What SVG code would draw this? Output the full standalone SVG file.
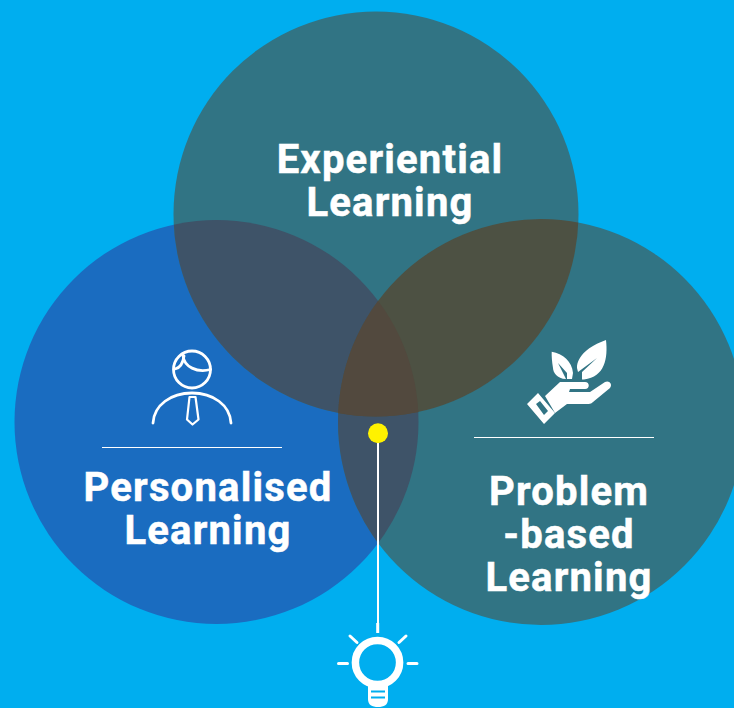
<svg xmlns="http://www.w3.org/2000/svg" width="734" height="708" viewBox="0 0 734 708">
<style>
.t{font-family:"Roboto","Liberation Sans",sans-serif;font-weight:700;font-size:40px;fill:#fff;stroke:#fff;stroke-width:.5px;text-anchor:middle;letter-spacing:1.2px}
.w{fill:none;stroke:#fff;stroke-width:2.800;stroke-linecap:round}
.r{fill:none;stroke:#fff;stroke-linecap:round}
</style>
<defs>
<clipPath id="cT"><circle cx="376" cy="214" r="202.500"/></clipPath>
<clipPath id="cL"><circle cx="216.500" cy="422" r="202"/></clipPath>
<clipPath id="cR"><circle cx="541" cy="422" r="203"/></clipPath>
</defs>
<rect width="734" height="708" fill="#00aeef"/>
<g id="node-personalised">
<circle cx="216.500" cy="422" r="202" fill="#1a6cc0"/>
</g>
<g id="node-problem">
<circle cx="541" cy="422" r="203" fill="#317484"/>
</g>
<g id="node-experiential">
<circle cx="376" cy="214" r="202.500" fill="#317484"/>
</g>
<g id="overlaps">
<g clip-path="url(#cL)"><circle cx="376" cy="214" r="202.500" fill="#3e5368"/><circle cx="541" cy="422" r="203" fill="#3e5368"/></g>
<g clip-path="url(#cR)"><circle cx="376" cy="214" r="202.500" fill="#4d5143"/></g>
<g clip-path="url(#cL)"><g clip-path="url(#cR)"><circle cx="376" cy="214" r="202.500" fill="#52493e"/></g></g>
</g>
<g id="label-experiential">
<text class="t" x="390" y="173">Experiential</text>
<text class="t" x="390" y="216">Learning</text>
</g>
<g id="label-personalised">
<text class="t" x="208" y="501">Personalised</text>
<text class="t" x="208" y="544">Learning</text>
<line x1="102" y1="447.500" x2="282" y2="447.500" stroke="#fff" stroke-width="1"/>
</g>
<g id="label-problem">
<text class="t" x="569" y="505">Problem</text>
<text class="t" x="569" y="548">-based</text>
<text class="t" x="569" y="591">Learning</text>
<line x1="474" y1="437.500" x2="654" y2="437.500" stroke="#fff" stroke-width="1"/>
</g>
<g id="icon-person">
<circle class="w" cx="192" cy="369.500" r="18.500"/>
<path class="w" d="M183 355.500C184 367 197 373 210.500 369.500"/>
<path class="w" d="M175 369C180 368 183 363 184 356"/>
<path class="w" d="M153 423C154 405 171 393 192 393C213 393 230 405 231 423" stroke-linecap="butt"/>
<path d="M189.500 397H195.500L198.500 419.500L192.500 424.500L187 419.500Z" fill="none" stroke="#fff" stroke-width="2.200" stroke-linejoin="round"/>
</g>
<g id="icon-plant">
<path fill="#fff" d="M551.700 351.700C563 354 572 361 573 373L572 379L567 379L567 373L558 363L566 379C557 379 553 372 553 368C552 362 551.500 356 551.700 351.700Z"/>
<path fill="#fff" d="M606 340C608 358 605 377 584 379.500L582 379.500L582 372L597 358L578 372L577 368C577 356 589 346 606 340Z"/>
<path fill="#fff" d="M545 396L560 382H585C590 382 590 389 585 389L570 389L569 392H590L605 382C609 380 613 384 610 388L593 402C591 404 589 404 587 404H567L555 413Z"/>
<path fill="#fff" fill-rule="evenodd" d="M527 404L538 393L555 413L544 424ZM536 404L544 415L548 411L540 401Z"/>
</g>
<g id="connectors">
<line x1="378" y1="433" x2="378" y2="623" stroke="#fff" stroke-width="2"/>
<line x1="377.700" y1="623" x2="377.700" y2="633" stroke="#fff" stroke-width="3"/>
</g>
<g id="dot">
<circle cx="378" cy="433.300" r="10" fill="#fff200"/>
</g>
<g id="icon-bulb">
<circle cx="377.500" cy="662.500" r="22.100" fill="none" stroke="#fff" stroke-width="7.500"/>
<path fill="#fff" d="M368 684H388V699C388 705 384 707 378 707C372 707 368 705 368 699Z"/>
<path d="M371 691.500H385M371 697.500H385" stroke="#00aeef" stroke-width="1.800" fill="none"/>
<path class="r" stroke-width="3" d="M350 636L357 642.500M406 636L399 642.500M338.500 663.500H347.500M408 663.500H417"/>
</g>
</svg>
